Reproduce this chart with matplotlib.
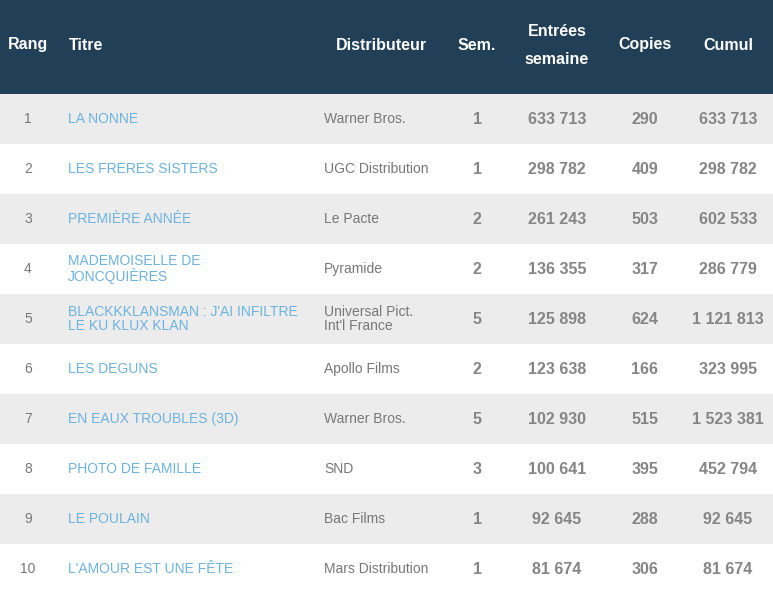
import matplotlib
matplotlib.use("Agg")
import matplotlib.pyplot as plt
from matplotlib.patches import Rectangle

plt.rcParams['font.family'] = ['Liberation Sans', 'DejaVu Sans']

# data
rangs = [1, 2, 3, 4, 5, 6, 7, 8, 9, 10]
titres = ["LA NONNE", "LES FRERES SISTERS", "PREMIÈRE ANNÉE",
          "MADEMOISELLE DE\nJONCQUIÈRES", "BLACKKKLANSMAN : J'AI INFILTRE\nLE KU KLUX KLAN",
          "LES DEGUNS", "EN EAUX TROUBLES (3D)", "PHOTO DE FAMILLE",
          "LE POULAIN", "L'AMOUR EST UNE FÊTE"]
distributeurs = ["Warner Bros.", "UGC Distribution", "Le Pacte", "Pyramide",
                 "Universal Pict.\nInt'l France", "Apollo Films", "Warner Bros.",
                 "SND", "Bac Films", "Mars Distribution"]
semaines = [1, 1, 2, 2, 5, 2, 5, 3, 1, 1]
entrees = [633713, 298782, 261243, 136355, 125898, 123638, 102930, 100641, 92645, 81674]
copies = [290, 409, 503, 317, 624, 166, 515, 395, 288, 306]
cumul = [633713, 298782, 602533, 286779, 1121813, 323995, 1523381, 452794, 92645, 81674]

# styles
HEAD_BG = "#213f56"
ROW_GREY = "#ececec"
TITLE_COL = "#6cb3e0"
TXT_COL = "#777777"
NUM_COL = "#858585"

W, H = 773, 592
HEAD_H = 94
ROW_H = 50


def fmt(n):
    return f"{n:,}".replace(",", " ")


fig = plt.figure(figsize=(W / 100, H / 100), dpi=100)
ax = fig.add_axes([0, 0, 1, 1])
ax.set_xlim(0, W)
ax.set_ylim(H, 0)
ax.axis("off")

# header
ax.add_patch(Rectangle((0, 0), W, HEAD_H, color=HEAD_BG, lw=0))
hk = dict(color="white", fontsize=11.5, fontweight="bold", va="center")
ax.text(8, 45, "Rang", ha="left", **hk)
ax.text(69, 45, "Titre", ha="left", **hk)
ax.text(336, 45, "Distributeur", ha="left", **hk)
ax.text(477, 45, "Sem.", ha="center", **hk)
ax.text(557, 31, "Entrées", ha="center", **hk)
ax.text(557, 59, "semaine", ha="center", **hk)
ax.text(645, 45, "Copies", ha="center", **hk)
ax.text(728, 45, "Cumul", ha="center", **hk)

# rows
for i in range(len(rangs)):
    y0 = HEAD_H + i * ROW_H
    yc = y0 + ROW_H / 2
    if i % 2 == 0:
        ax.add_patch(Rectangle((0, y0), W, ROW_H, color=ROW_GREY, lw=0))
    ax.text(28, yc, str(rangs[i]), ha="center", va="center", color=TXT_COL, fontsize=10)
    ax.text(68, yc, titres[i], ha="left", va="center", color=TITLE_COL, fontsize=10,
            linespacing=1.05)
    ax.text(324, yc, distributeurs[i], ha="left", va="center", color=TXT_COL, fontsize=10,
            linespacing=1.05)
    nk = dict(ha="center", va="center", color=NUM_COL, fontsize=11.5, fontweight="bold")
    ax.text(477, yc, str(semaines[i]), **nk)
    ax.text(557, yc, fmt(entrees[i]), **nk)
    ax.text(645, yc, str(copies[i]), **nk)
    ax.text(728, yc, fmt(cumul[i]), **nk)

fig.savefig("out.png", dpi=100)
